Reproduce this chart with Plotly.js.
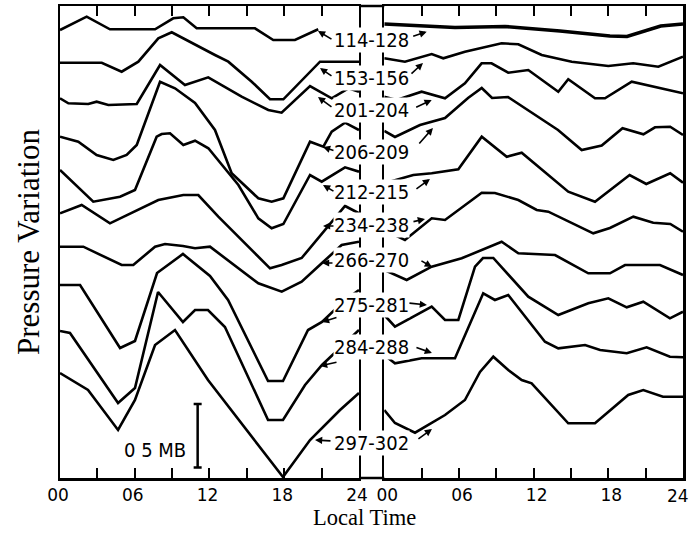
<!DOCTYPE html>
<html><head><meta charset="utf-8">
<script src="https://cdn.plot.ly/plotly-3.0.1.min.js"></script>
<style>html,body{margin:0;padding:0;background:#fff}</style>
</head><body><div id="chart" style="width:692px;height:548px"></div>
<script>
// Local time (hours) and stacked pressure level (arbitrary units; 63.3 units = 0.5 mb)
const curveLabels = ["114-128","153-156","201-204","206-209","212-215","234-238","266-270","275-281","284-288","297-302"];
const labelLevel = [438,400,368,326,286,253,218,173,131,35];
const tickVals = [0,3,6,9,12,15,18,21,24];
const tickTextLeft = ["00","","06","","12","","18","","24"];
const tickTextRight = ["00","","06","","12","","18","",""];
const lastTickText = "24";

const s1L_t = [0,2.14,4.01,7.63,9.09,9.90,10.97,15.65,17.12,18.86,20.73];
const s1L_v = [448,461.3,448.7,448.7,459.7,460.7,449.7,449.7,438,438,448.7];
const s1R_t = [0,5.68,9.70,14.12,18.13,19.50,22.21,24];
const s1R_v = [454,450.5,451.5,447,442,441.5,452,454];
const s2L_t = [0,3.35,4.95,6.29,7.89,8.97,12.44,13.51,15.39,16.86,17.93,19.40,20.87,24];
const s2L_v = [415.3,415.3,406.3,416.3,439.7,445.7,423,416.3,396.3,378.7,378.7,398,416.3,416.3];
const s2R_t = [0,1.66,3.81,4.74,6.48,9.43,10.77,12.65,15.06,18.0,20.0,22.02,24];
const s2R_v = [419.7,416.3,424,419.7,426.3,434.7,433.7,423,416.3,412,414.7,411.3,421.3];
const s3L_t = [0,0.67,2.27,2.94,3.88,6.16,8.03,10.03,11.90,14.58,16.72,17.79,20.07,21.81,23.15,24];
const s3L_v = [379.7,374.7,374,376.3,373,374,413,393,400.7,381.3,368,365.3,392,379.7,389.7,386.3];
const s3R_t = [0,0.99,3.0,4.88,6.48,7.82,8.62,9.96,11.57,13.98,14.78,16.93,17.73,19.88,24];
const s3R_v = [381.3,378,386.3,379.7,394.7,414.7,414.7,405.3,408,386.3,398.7,379.7,379.7,396.3,384.7];
const s4L_t = [0,1.47,2.94,4.28,5.35,6.16,8.03,9.23,10.84,12.44,13.78,15.92,16.99,17.93,20.07,21.14,21.81,22.88,24];
const s4L_v = [341.3,336.3,323,318,323,333,396.3,389.7,375,348,304.7,279.7,276.3,279.7,336.3,331.3,346.3,355.3,348];
const s4R_t = [0,0.86,2.87,4.88,6.73,7.83,8.66,9.94,13.96,15.86,17.47,19.14,20.82,21.75,22.97,24];
const s4R_v = [347,341,353,360,380,390,380,381,348,328,332.5,349.7,343.7,350.7,351.3,343];
const s5L_t = [0,2.67,4.82,6.02,7.76,8.16,8.83,9.90,10.84,11.91,14.32,15.92,16.99,17.93,20.07,21.01,22.88,24];
const s5L_v = [308,276.3,281.3,288,341.3,344,344.7,333,337.3,329.7,293,259.7,249.7,254,303,296.3,310.7,306.3];
const s5R_t = [0,2.33,3.81,5.95,7.83,9.84,11.04,14.78,16.93,19.71,21.05,22.97,24];
const s5R_v = [294.7,303,304.7,308.7,341.3,321.3,325.3,286.3,276.3,303,294,304.7,295.3];
const s6L_t = [0,1.74,4.01,7.89,9.90,11.10,12.71,16.19,16.86,17.79,19.40,22.88,24];
const s6L_v = [264.7,273,254.7,278,283,283,261.3,218.3,209.7,213,220,272,264.7];
const s6R_t = [0,1.66,3.81,4.88,7.83,8.89,10.77,12.25,13.18,16.79,18.13,20.01,21.61,22.98,24];
const s6R_v = [248,238,259.7,258,285.3,285,278,268,266.3,244.7,250,261.3,255.3,254,246.3];
const s7L_t = [0,1.87,4.95,5.88,7.63,8.43,9.87,10.84,12.04,13.65,15.92,17.80,19.40,21.01,22.61,24];
const s7L_v = [231.3,231.3,213,213,231.3,234,232,229.7,231.3,216,194.7,186.3,196.3,214.7,233,236.3];
const s7R_t = [0,1.80,3.81,6.22,9.43,10.77,13.72,16.39,18.13,19.34,22.15,24];
const s7R_v = [208,198,211.3,219.7,236.3,224.7,223,204.7,204.7,213,213,203];
const s8L_t = [0,1.61,4.82,6.02,7.79,9.87,12.04,13.49,16.70,17.90,19.91,21.03,22.88,24];
const s8L_v = [193,193,130,137,205,224,202,178,97,97,148,156,178,188];
const s8R_t = [0,0.86,3.81,4.88,5.95,7.29,7.93,8.76,11.57,13.98,16.39,18.0,19.48,20.81,22.95,24];
const s8R_v = [163,151.3,171.3,158,158,211.3,220,220,181.3,163,174.7,179.7,170.7,176.3,159.7,166.3];
const s9L_t = [0,0.80,4.66,6.02,7.87,9.87,10.84,11.88,13.24,16.70,17.90,19.67,21.03,24];
const s9L_v = [147,145,75,90,186,156,168,168,151,58,58,93,113,148];
const s9R_t = [0,0.86,3.0,5.68,7.95,8.89,9.96,11.57,12.91,13.98,16.13,17.34,19.48,21.08,22.95,24];
const s9R_v = [123,114.7,119.7,119.7,184.7,178,183,158,136.3,129.7,133,128,124.7,130.7,121.3,120.7];
const s10L_t = [0,2.25,4.66,6.02,7.63,9.23,11.88,17.90,20.07,22.48,24];
const s10L_v = [105,88,48,78,133,148,98,1,38,68,85];
const s10R_t = [0,0.86,2.47,4.88,6.48,7.69,8.76,9.96,11.04,11.84,14.78,16.93,19.6,20.81,22.39,24];
const s10R_v = [68,55,45.3,63,78,106,121.3,108,98,94.7,54.7,54.7,83,88,81.3,81.3];

// scale bar: 0.5 mb
const scaleBar_t = [11.05];
const scaleBar_v = [42.3];
const scaleBarHalf = [31.7];

const leftSeries = [[s1L_t,s1L_v],[s2L_t,s2L_v],[s3L_t,s3L_v],[s4L_t,s4L_v],[s5L_t,s5L_v],[s6L_t,s6L_v],[s7L_t,s7L_v],[s8L_t,s8L_v],[s9L_t,s9L_v],[s10L_t,s10L_v]];
const rightSeries = [[s1R_t,s1R_v],[s2R_t,s2R_v],[s3R_t,s3R_v],[s4R_t,s4R_v],[s5R_t,s5R_v],[s6R_t,s6R_v],[s7R_t,s7R_v],[s8R_t,s8R_v],[s9R_t,s9R_v],[s10R_t,s10R_v]];

// arrow heads (left panel / right panel) and tail offsets in px
const arrowL_t = [20.71,20.87,20.71,21.11,21.11,21.11,21.03,21.03,20.87,20.47];
const arrowL_v = [447,410,381,331,293,252,215,156,112,38];
const arrowL_ax = [15,13,15,12,12,12,12,16,18,17];
const arrowL_ay = [9,9,11,4,7,0,0,-5,-4,1];
const arrowR_t = [3.41,3.11,3.81,3.91,3.67,3.27,3.83,3.43,3.83,3.83];
const arrowR_v = [446.3,415,378,350,299,259,211,173,125,49];
const arrowR_ax = [-15,-13,-17,-15,-15,-13,-12,-19,-17,-15];
const arrowR_ay = [5,12,8,17,11,3,-7,-2,-6,11];

const traces = [];
leftSeries.forEach(s => traces.push({x:s[0], y:s[1], xaxis:'x', yaxis:'y', mode:'lines', line:{color:'#000', width:2.6}, hoverinfo:'skip'}));
rightSeries.forEach((s,i) => traces.push({x:s[0], y:s[1], xaxis:'x2', yaxis:'y2', mode:'lines', line:{color:'#000', width:i===0?3.6:2.6}, hoverinfo:'skip'}));
traces.push({x:scaleBar_t, y:scaleBar_v, xaxis:'x', yaxis:'y', mode:'markers', marker:{size:1, color:'rgba(0,0,0,0)'},
  error_y:{type:'data', array:scaleBarHalf, visible:true, color:'#000', thickness:2.5, width:4}, hoverinfo:'skip'});

const tickFont = {family:'DejaVu Sans', size:17, color:'#000'};
const xBase = {range:[0,24], tickvals:tickVals, ticks:'inside', ticklen:10, tickwidth:2, tickcolor:'#000',
  showline:true, linewidth:2.5, linecolor:'#000', mirror:'ticks', showgrid:false, zeroline:false,
  tickfont:tickFont, fixedrange:true};
const yBase = {range:[0,472], showticklabels:false, ticks:'', showline:true, linewidth:2.5, linecolor:'#000', mirror:true,
  showgrid:false, zeroline:false, fixedrange:true, domain:[0,1]};

const annotations = [];
const labFont = {family:'DejaVu Sans Condensed, DejaVu Sans', size:20, color:'#000'};
curveLabels.forEach((txt,i) => annotations.push({text:txt, xref:'paper', yref:'y', x:0.5008, y:labelLevel[i],
  showarrow:false, bgcolor:'#fff', borderpad:0, font:labFont, xanchor:'center', yanchor:'middle'}));
arrowL_t.forEach((t,i) => annotations.push({text:'', xref:'x', yref:'y', x:t, y:arrowL_v[i], ax:arrowL_ax[i], ay:arrowL_ay[i],
  showarrow:true, arrowhead:2, arrowsize:0.9, arrowwidth:1.6, arrowcolor:'#000', standoff:0}));
arrowR_t.forEach((t,i) => annotations.push({text:'', xref:'x2', yref:'y', x:t, y:arrowR_v[i], ax:arrowR_ax[i], ay:arrowR_ay[i],
  showarrow:true, arrowhead:2, arrowsize:0.9, arrowwidth:1.6, arrowcolor:'#000', standoff:0}));
annotations.push({text:lastTickText, xref:'paper', yref:'paper', x:1, y:0, xanchor:'right', yanchor:'top', yshift:-6, xshift:8,
  showarrow:false, font:tickFont});
annotations.push({text:'0 5 MB', xref:'x', yref:'y', x:7.63, y:28, showarrow:false, font:labFont});
annotations.push({text:'Pressure Variation', xref:'paper', yref:'paper', x:-0.0514, y:0.5, xanchor:'center', yanchor:'middle',
  textangle:-90, showarrow:false, font:{family:'Liberation Serif', size:31, color:'#000'}});
annotations.push({text:'Local Time', xref:'paper', yref:'paper', x:0.488, y:-0.0847, xanchor:'center', yanchor:'middle',
  showarrow:false, font:{family:'Liberation Serif', size:22.5, color:'#000'}});

const layout = {
  width:692, height:548, margin:{l:60, r:9, t:6, b:70}, paper_bgcolor:'#fff', plot_bgcolor:'#fff', showlegend:false,
  xaxis:Object.assign({}, xBase, {domain:[0,0.4799], anchor:'y', ticktext:tickTextLeft, ticklabelshift:-2}),
  xaxis2:Object.assign({}, xBase, {domain:[0.5205,1], anchor:'y2', ticktext:tickTextRight, ticklabelshift:3}),
  yaxis:Object.assign({}, yBase, {anchor:'x'}),
  yaxis2:Object.assign({}, yBase, {anchor:'x2', matches:'y'}),
  shapes:[
    {type:'line', xref:'paper', yref:'paper', x0:0.4799, x1:0.5205, y0:1, y1:1, line:{color:'#000', width:2.5}},
    {type:'line', xref:'paper', yref:'paper', x0:0.4799, x1:0.5205, y0:0, y1:0, line:{color:'#000', width:2.5}}
  ],
  annotations:annotations
};
Plotly.newPlot('chart', traces, layout, {displayModeBar:false, staticPlot:true});
</script></body></html>
